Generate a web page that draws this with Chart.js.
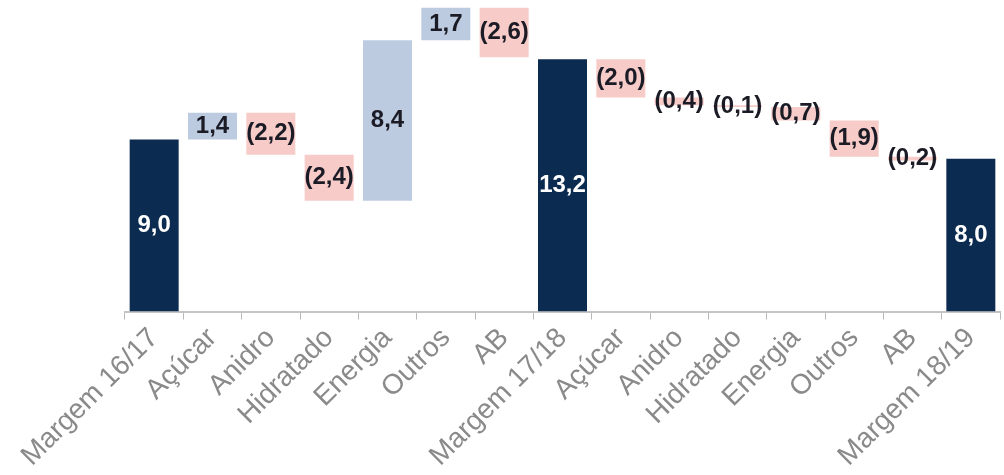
<!DOCTYPE html>
<html lang="pt">

<head>
    <meta charset="UTF-8">
    <title>Margem 16/17 - 18/19</title>
    <script src="https://cdn.jsdelivr.net/npm/chart.js"></script>
    <style>
        * {
            margin: 0;
            padding: 0;
            box-sizing: border-box;
        }

        body {
            background: #fff;
            width: 1004px;
            height: 475px;
            overflow: hidden;
        }

        .wrap {
            position: relative;
            width: 1004px;
            height: 475px;
        }
    </style>
</head>

<body>
    <div class="wrap">
        <canvas id="waterfall"></canvas>
    </div>

    <script>
        // categories and values (R$ bi)
        const categories = ['Margem 16/17', 'Açúcar', 'Anidro', 'Hidratado', 'Energia', 'Outros', 'AB',
            'Margem 17/18', 'Açúcar', 'Anidro', 'Hidratado', 'Energia', 'Outros', 'AB', 'Margem 18/19'];
        // null = total bar, number = change from previous level
        const deltas = [null, 1.4, -2.2, -2.4, 8.4, 1.7, -2.6, null, -2.0, -0.4, -0.1, -0.7, -1.9, -0.2, null];
        const totals = [9.0, null, null, null, null, null, null, 13.2, null, null, null, null, null, null, 8.0];

        const navy = '#0c2b50';
        const upColor = '#bccbe0';
        const downColor = '#f6cbc8';

        // build floating ranges for the waterfall
        const ranges = [];
        const colors = [];
        let level = 0;
        for (let i = 0; i < categories.length; i++) {
            if (deltas[i] === null) {
                level = totals[i];
                ranges.push([0, totals[i]]);
                colors.push(navy);
            } else {
                ranges.push([level, level + deltas[i]]);
                colors.push(deltas[i] > 0 ? upColor : downColor);
                level += deltas[i];
            }
        }

        function fmt(v) {
            const s = Math.abs(v).toFixed(1).replace('.', ',');
            return v < 0 ? '(' + s + ')' : s;
        }

        // draw the value in the middle of each bar
        const barLabels = {
            id: 'barLabels',
            afterDatasetsDraw(chart) {
                const ctx = chart.ctx;
                const meta = chart.getDatasetMeta(0);
                ctx.save();
                ctx.font = 'bold 24px "Liberation Sans", Arial, sans-serif';
                ctx.textAlign = 'center';
                ctx.textBaseline = 'middle';
                meta.data.forEach((bar, i) => {
                    const isTotal = deltas[i] === null;
                    const y = (bar.y + bar.base) / 2;
                    ctx.fillStyle = isTotal ? '#ffffff' : '#1b1b26';
                    ctx.fillText(fmt(isTotal ? totals[i] : deltas[i]), bar.x, y);
                });
                ctx.restore();
            }
        };

        const ctx = document.getElementById('waterfall').getContext('2d');
        const chart = new Chart(ctx, {
            type: 'bar',
            data: {
                labels: categories,
                datasets: [{
                    data: ranges,
                    backgroundColor: colors,
                    borderWidth: 0,
                    barPercentage: 0.84,
                    categoryPercentage: 1.0
                }]
            },
            options: {
                responsive: true,
                maintainAspectRatio: false,
                animation: false,
                layout: { padding: { left: 125, right: 4, top: 0, bottom: 0 } },
                plugins: {
                    legend: { display: false },
                    tooltip: { enabled: false }
                },
                scales: {
                    x: {
                        grid: {
                            offset: true,
                            drawOnChartArea: false,
                            drawTicks: true,
                            tickLength: 8,
                            color: '#b8b8b8'
                        },
                        border: { color: '#c4c4c4', width: 2 },
                        ticks: {
                            color: '#8a8a8a',
                            maxRotation: 45,
                            minRotation: 45,
                            autoSkip: false,
                            padding: 2,
                            font: { family: '"Liberation Sans", Arial, sans-serif', size: 28 }
                        }
                    },
                    y: {
                        display: false,
                        min: 0,
                        max: 16.3
                    }
                }
            },
            plugins: [barLabels]
        });
    </script>

</body>

</html>
